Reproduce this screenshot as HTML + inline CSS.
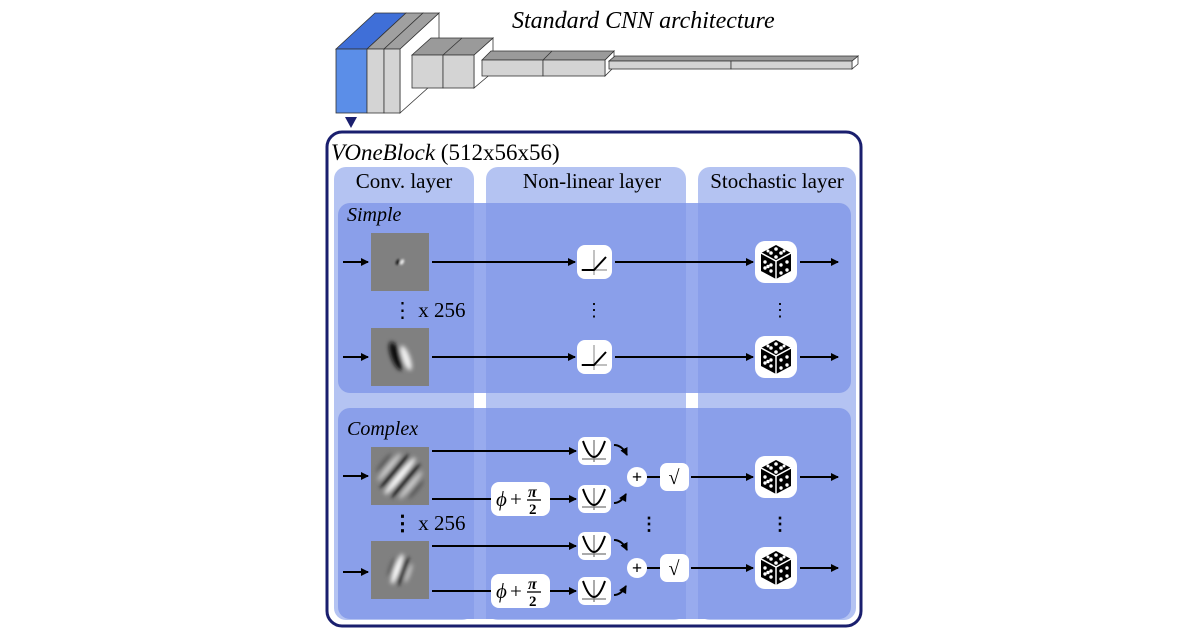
<!DOCTYPE html>
<html><head><meta charset="utf-8"><style>
html,body{margin:0;padding:0;background:#fff;}
svg{display:block;}
text{font-family:"Liberation Serif",serif;fill:#000;}
</style></head><body>
<svg width="1200" height="632" viewBox="0 0 1200 632" xmlns="http://www.w3.org/2000/svg">
<defs>
<filter id="bl" x="-20%" y="-20%" width="140%" height="140%"><feGaussianBlur stdDeviation="2.2"/></filter>
<filter id="bl2" x="-50%" y="-50%" width="200%" height="200%"><feGaussianBlur stdDeviation="1"/></filter>
<clipPath id="c1"><rect x="371" y="447" width="58" height="58"/></clipPath>
<clipPath id="c2"><rect x="371" y="541" width="58" height="58"/></clipPath>
<clipPath id="c3"><rect x="371" y="328" width="58" height="58"/></clipPath>
<marker id="ah" markerWidth="8" markerHeight="8" refX="7" refY="4" orient="auto" markerUnits="userSpaceOnUse">
<path d="M0,0 L8,4 L0,8 Z" fill="#000"/></marker>
<g id="dice">
<rect x="-21" y="-21" width="42" height="42" rx="10" fill="#fff"/>
<polygon points="0,-17 15,-9 15,9 0,17 -15,9 -15,-9" fill="#000"/>
<polyline points="-15,-9 0,-1 15,-9" fill="none" stroke="#fff" stroke-width="1.5"/>
<line x1="0" y1="-1" x2="0" y2="17" stroke="#fff" stroke-width="1.5"/>
<g fill="#fff"><circle cx="0" cy="-13" r="1.8"/><circle cx="-5" cy="-9" r="1.8"/><circle cx="5" cy="-9" r="1.8"/><circle cx="0" cy="-5" r="1.8"/><circle cx="-8" cy="-11" r="1.5"/><circle cx="8" cy="-11" r="1.5"/>
<circle cx="-11" cy="0" r="1.7"/><circle cx="-5" cy="3" r="1.7"/><circle cx="-11" cy="6" r="1.7"/><circle cx="-5" cy="9" r="1.7"/><circle cx="-8" cy="4.5" r="1.7"/>
<circle cx="5" cy="3" r="1.7"/><circle cx="11" cy="0" r="1.7"/><circle cx="5" cy="11" r="1.7"/><circle cx="11" cy="8" r="1.7"/></g>
</g>
<g id="relu">
<rect x="-17" y="-17" width="35" height="34" rx="8" fill="#fff"/>
<line x1="0" y1="-12" x2="0" y2="13" stroke="#999" stroke-width="1.2"/>
<line x1="-13" y1="8" x2="13" y2="8" stroke="#999" stroke-width="1.2"/>
<polyline points="-12,8 0,8 12,-5" fill="none" stroke="#000" stroke-width="2"/>
</g>
<g id="para">
<rect x="-16" y="-14" width="33" height="28" rx="7" fill="#fff"/>
<line x1="0" y1="-11" x2="0" y2="11" stroke="#555" stroke-width="1"/>
<line x1="-12" y1="8" x2="12" y2="8" stroke="#777" stroke-width="1.2"/>
<path d="M-11,-10 Q0,22 11,-10" fill="none" stroke="#000" stroke-width="2"/>
</g>
<g id="phi">
<rect x="0" y="-17" width="59" height="34" rx="8" fill="#fff"/>
<text x="5" y="7" font-size="21" font-style="italic">ϕ</text>
<text x="19" y="7" font-size="21">+</text>
<text x="37" y="-2" font-size="16" font-weight="bold" font-style="italic">π</text>
<line x1="36" y1="1" x2="50" y2="1" stroke="#000" stroke-width="1.3"/>
<text x="38" y="15" font-size="15" font-weight="bold">2</text>
</g>
</defs>

<!-- CNN top -->
<text x="512" y="28" font-size="24" font-style="italic">Standard CNN architecture</text>
<g stroke="#333" stroke-width="0.8">
<polygon points="400,49 439,13 439,78 400,113" fill="#fff"/>
<polygon points="336,49 375,13 406,13 367,49" fill="#3f6fd8"/>
<rect x="336" y="49" width="31" height="64" fill="#5b8ee8"/>
<polygon points="367,49 406,13 423,13 384,49" fill="#a0a0a0"/>
<rect x="367" y="49" width="17" height="64" fill="#d4d4d4"/>
<polygon points="384,49 423,13 439,13 400,49" fill="#a0a0a0"/>
<rect x="384" y="49" width="16" height="64" fill="#d4d4d4"/>

<polygon points="474,55 493,38 493,72 474,88" fill="#fff"/>
<polygon points="412,55 431,38 493,38 474,55" fill="#9a9a9a"/>
<rect x="412" y="55" width="31" height="33" fill="#d4d4d4"/>
<rect x="443" y="55" width="31" height="33" fill="#d4d4d4"/>
<line x1="443" y1="55" x2="462" y2="38"/>

<polygon points="605,60 614,51 614,67 605,76" fill="#fff"/>
<polygon points="482,60 491,51 614,51 605,60" fill="#9a9a9a"/>
<rect x="482" y="60" width="61" height="16" fill="#d4d4d4"/>
<rect x="543" y="60" width="62" height="16" fill="#d4d4d4"/>
<line x1="543" y1="60" x2="552" y2="51"/>

<polygon points="852,61 858,56 858,64 852,69" fill="#fff"/>
<polygon points="609,61 615,56 858,56 852,61" fill="#9a9a9a"/>
<rect x="609" y="61" width="122" height="8" fill="#d4d4d4"/>
<rect x="731" y="61" width="121" height="8" fill="#d4d4d4"/>
</g>
<polygon points="345,117 357,117 351,128" fill="#1a1f6e"/>

<!-- Frame -->
<rect x="327" y="132" width="534" height="494" rx="15" fill="#fff" stroke="#1a1f6e" stroke-width="3"/>
<text x="331" y="160" font-size="23"><tspan font-style="italic">VOneBlock</tspan> (512x56x56)</text>

<g fill="#b4c3f2">
<rect x="334" y="167" width="140" height="453" rx="12"/>
<rect x="486" y="167" width="200" height="453" rx="12"/>
<rect x="698" y="167" width="158" height="453" rx="12"/>
</g>
<text x="404" y="188" font-size="21" text-anchor="middle">Conv. layer</text>
<text x="592" y="188" font-size="21" text-anchor="middle">Non-linear layer</text>
<text x="777" y="188" font-size="21" text-anchor="middle">Stochastic layer</text>

<rect x="338" y="203" width="513" height="190" rx="12" fill="#8a9fea"/>
<rect x="338" y="408" width="513" height="211" rx="12" fill="#8a9fea"/>
<rect x="474" y="203" width="12" height="190" fill="#98abee"/>
<rect x="686" y="203" width="12" height="190" fill="#98abee"/>
<rect x="474" y="408" width="12" height="211" fill="#98abee"/>
<rect x="686" y="408" width="12" height="211" fill="#98abee"/>

<text x="347" y="221" font-size="20" font-style="italic">Simple</text>
<text x="347" y="435" font-size="20" font-style="italic">Complex</text>

<!-- filter images -->
<rect x="371" y="233" width="58" height="58" fill="#808080"/>
<g filter="url(#bl2)">
<ellipse cx="398" cy="262" rx="1.8" ry="3" fill="#111" transform="rotate(30 398 262)"/>
<ellipse cx="402" cy="262" rx="1.8" ry="3" fill="#eee" transform="rotate(30 402 262)"/>
</g>
<rect x="371" y="328" width="58" height="58" fill="#808080"/>
<g clip-path="url(#c3)"><g filter="url(#bl)">
<ellipse cx="396" cy="356" rx="5" ry="15" fill="#111" transform="rotate(-20 396 356)"/>
<ellipse cx="406" cy="358" rx="4" ry="13" fill="#f0f0f0" transform="rotate(-20 406 358)"/>
</g></g>
<rect x="371" y="447" width="58" height="58" fill="#808080"/>
<g clip-path="url(#c1)"><g transform="rotate(40 400 476)" filter="url(#bl)">
<ellipse cx="400" cy="476" rx="3" ry="24" fill="#fff"/>
<ellipse cx="393" cy="476" rx="3" ry="22" fill="#111"/>
<ellipse cx="407" cy="476" rx="3" ry="22" fill="#111"/>
<ellipse cx="386" cy="476" rx="2.5" ry="18" fill="#d0d0d0"/>
<ellipse cx="414" cy="476" rx="2.5" ry="18" fill="#d0d0d0"/>
<ellipse cx="379" cy="476" rx="2" ry="12" fill="#555"/>
<ellipse cx="421" cy="476" rx="2" ry="12" fill="#555"/>
</g></g>
<rect x="371" y="541" width="58" height="58" fill="#808080"/>
<g clip-path="url(#c2)"><g transform="rotate(20 400 570)" filter="url(#bl)">
<ellipse cx="397" cy="570" rx="3" ry="16" fill="#fff"/>
<ellipse cx="403" cy="570" rx="3" ry="15" fill="#111"/>
<ellipse cx="391" cy="570" rx="2" ry="10" fill="#555"/>
<ellipse cx="409" cy="570" rx="2" ry="10" fill="#ccc"/>
</g></g>

<text x="392" y="317" font-size="21">⋮ x 256</text>
<text x="392" y="530" font-size="21"><tspan font-weight="bold">⋮</tspan> x 256</text>

<g stroke="#000" stroke-width="2" marker-end="url(#ah)" fill="none">
<line x1="343" y1="262" x2="368" y2="262"/>
<line x1="432" y1="262" x2="575" y2="262"/>
<line x1="615" y1="262" x2="753" y2="262"/>
<line x1="800" y1="262" x2="838" y2="262"/>
<line x1="343" y1="357" x2="368" y2="357"/>
<line x1="432" y1="357" x2="575" y2="357"/>
<line x1="615" y1="357" x2="753" y2="357"/>
<line x1="800" y1="357" x2="838" y2="357"/>
<line x1="343" y1="476" x2="368" y2="476"/>
<line x1="432" y1="451" x2="576" y2="451"/>
<line x1="550" y1="499" x2="576" y2="499"/>
<line x1="691" y1="477" x2="753" y2="477"/>
<line x1="800" y1="477" x2="838" y2="477"/>
<line x1="343" y1="572" x2="368" y2="572"/>
<line x1="432" y1="546" x2="576" y2="546"/>
<line x1="550" y1="591" x2="576" y2="591"/>
<line x1="691" y1="568" x2="753" y2="568"/>
<line x1="800" y1="568" x2="838" y2="568"/>
<path d="M614,445 Q622,445 627,455"/>
<path d="M614,503 Q621,503 626,494"/>
<path d="M614,540 Q622,540 627,550"/>
<path d="M614,595 Q621,595 626,586"/>
</g>
<g stroke="#000" stroke-width="2">
<line x1="432" y1="499" x2="492" y2="499"/>
<line x1="432" y1="591" x2="492" y2="591"/>
<line x1="647" y1="477" x2="660" y2="477"/>
<line x1="647" y1="568" x2="660" y2="568"/>
</g>

<use href="#relu" x="594" y="262"/>
<use href="#relu" x="594" y="357"/>
<use href="#dice" x="776" y="262"/>
<use href="#dice" x="776" y="357"/>
<use href="#dice" x="776" y="477"/>
<use href="#dice" x="776" y="568"/>
<text x="594" y="316" font-size="18" text-anchor="middle">⋮</text>
<text x="780" y="316" font-size="18" text-anchor="middle">⋮</text>
<text x="649" y="530" font-size="18" text-anchor="middle" font-weight="bold">⋮</text>
<text x="780" y="530" font-size="18" text-anchor="middle" font-weight="bold">⋮</text>

<use href="#para" x="594" y="451"/>
<use href="#para" x="594" y="499"/>
<use href="#para" x="594" y="546"/>
<use href="#para" x="594" y="591"/>
<use href="#phi" x="491" y="499"/>
<use href="#phi" x="491" y="591"/>

<circle cx="637" cy="477" r="10" fill="#fff"/><text x="637" y="483" font-size="18" text-anchor="middle" font-weight="bold">+</text>
<circle cx="637" cy="568" r="10" fill="#fff"/><text x="637" y="574" font-size="18" text-anchor="middle" font-weight="bold">+</text>
<rect x="660" y="463" width="29" height="28" rx="7" fill="#fff"/><text x="674" y="484" font-size="20" text-anchor="middle">√</text>
<rect x="660" y="554" width="29" height="28" rx="7" fill="#fff"/><text x="674" y="575" font-size="20" text-anchor="middle">√</text>
</svg>
</body></html>
